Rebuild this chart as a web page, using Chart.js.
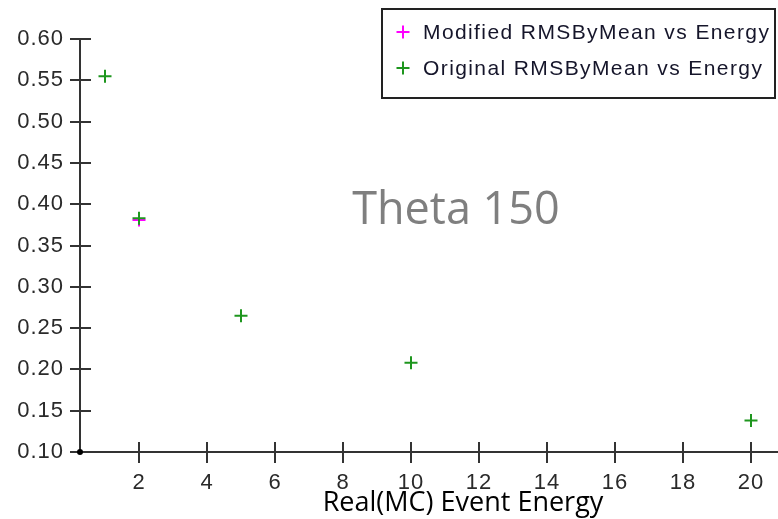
<!DOCTYPE html>
<html>
<head>
<meta charset="utf-8">
<script src="https://cdn.jsdelivr.net/npm/chart.js@4/dist/chart.umd.min.js"></script>
<style>
  html, body { margin: 0; padding: 0; background: #fff; }
  canvas { display: block; }
</style>
</head>
<body>
<canvas id="c" width="778" height="519"></canvas>
<script>
// Event energy (x) and RMS/mean resolution for both reconstructions
const energy = [1, 2, 5, 10, 20];
const modifiedRms = [0.555, 0.381, 0.265, 0.208, 0.138];
const originalRms = [0.555, 0.383, 0.265, 0.208, 0.138];

const xTicks = [2, 4, 6, 8, 10, 12, 14, 16, 18, 20];
const yTicks = [0.10, 0.15, 0.20, 0.25, 0.30, 0.35, 0.40, 0.45, 0.50, 0.55, 0.60];
const xRange = [9 / 34, 706 / 34];
const yRange = [0.1, 0.6];

const seriesLabels = ['Modified RMSByMean vs Energy', 'Original RMSByMean vs Energy'];
const seriesColors = ['#ff00ff', '#1e961e'];
const plotTitle = 'Theta 150';
const xTitle = 'Real(MC) Event Energy';

const AXIS = '#2a2a2a';
const MARK = 6.5;

function crossAt(ctx, x, y, r, color) {
  ctx.save();
  ctx.strokeStyle = color;
  ctx.lineWidth = 2;
  ctx.beginPath();
  ctx.moveTo(x - r, y); ctx.lineTo(x + r, y);
  ctx.moveTo(x, y - r); ctx.lineTo(x, y + r);
  ctx.stroke();
  ctx.restore();
}

// Axis lines with tick marks crossing both sides, plus the origin dot
const axesPlugin = {
  id: 'axesPlugin',
  beforeDraw(chart) {
    chart.ctx.letterSpacing = '1px';
  },
  beforeDatasetsDraw(chart) {
    const { ctx, chartArea: a, scales: { x, y } } = chart;
    ctx.save();
    ctx.strokeStyle = '#333';
    ctx.lineWidth = 2;
    ctx.beginPath();
    ctx.moveTo(a.left, y.getPixelForValue(yRange[1]));
    ctx.lineTo(a.left, a.bottom);
    ctx.lineTo(a.right + 1, a.bottom);
    for (const v of yTicks) {
      const py = Math.round(y.getPixelForValue(v));
      ctx.moveTo(a.left - 10, py); ctx.lineTo(a.left + 11, py);
    }
    for (const v of xTicks) {
      const px = Math.round(x.getPixelForValue(v));
      ctx.moveTo(px, a.bottom - 10); ctx.lineTo(px, a.bottom + 11);
    }
    ctx.stroke();
    ctx.fillStyle = '#000';
    ctx.beginPath();
    ctx.arc(a.left, a.bottom, 3, 0, Math.PI * 2);
    ctx.fill();
    ctx.restore();
  },
  afterDraw(chart) {
    const { ctx } = chart;
    ctx.save();
    // centred plot label
    ctx.letterSpacing = '0px';
    ctx.fillStyle = '#7f7f7f';
    ctx.font = '45px "Open Sans"';
    ctx.textAlign = 'center';
    ctx.textBaseline = 'alphabetic';
    ctx.fillText(plotTitle, 456, 224);
    // x-axis caption
    ctx.fillStyle = '#000';
    ctx.font = '27px "Open Sans"';
    ctx.fillText(xTitle, 463, 511);
    // legend box
    ctx.fillStyle = '#fff';
    ctx.fillRect(382, 9, 393, 89);
    ctx.strokeStyle = '#222';
    ctx.lineWidth = 2;
    ctx.strokeRect(382, 9, 393, 89);
    const rows = [32, 68];
    ctx.font = '21px "Liberation Sans", Arial, sans-serif';
    ctx.letterSpacing = '1.4px';
    ctx.textAlign = 'left';
    ctx.textBaseline = 'middle';
    seriesLabels.forEach((lab, i) => {
      crossAt(ctx, 403, rows[i], MARK, seriesColors[i]);
      ctx.fillStyle = '#15152a';
      ctx.fillText(lab, 423, rows[i] + 1);
    });
    ctx.restore();
  }
};

const tickFont = { family: '"Liberation Sans", Arial, sans-serif', size: 22 };

// a modified point that sits exactly under the original one is fully hidden,
// so it is not stroked (avoids colour fringes from overlapping antialiasing)
const hiddenUnderOriginal = ctx => modifiedRms[ctx.dataIndex] === originalRms[ctx.dataIndex] ? 0 : MARK;

new Chart(document.getElementById('c'), {
  type: 'scatter',
  data: {
    datasets: [
      {
        label: seriesLabels[0],
        data: energy.map((e, i) => ({ x: e, y: modifiedRms[i] })),
        pointStyle: 'cross',
        pointRadius: hiddenUnderOriginal,
        pointBorderWidth: 2,
        borderColor: seriesColors[0],
        backgroundColor: seriesColors[0],
        order: 1
      },
      {
        label: seriesLabels[1],
        data: energy.map((e, i) => ({ x: e, y: originalRms[i] })),
        pointStyle: 'cross',
        pointRadius: MARK,
        pointBorderWidth: 2,
        borderColor: seriesColors[1],
        backgroundColor: seriesColors[1],
        order: 0
      }
    ]
  },
  options: {
    responsive: false,
    animation: false,
    devicePixelRatio: 1,
    layout: { autoPadding: false, padding: { top: 39, right: 1, left: 0, bottom: 0 } },
    plugins: {
      legend: { display: false },
      title: { display: false },
      tooltip: { enabled: false }
    },
    scales: {
      x: {
        type: 'linear',
        min: xRange[0],
        max: xRange[1],
        afterBuildTicks: s => { s.ticks = xTicks.map(v => ({ value: v })); },
        afterFit: s => { s.height = 67; s.paddingLeft = 0; s.paddingRight = 0; },
        grid: { display: false, drawTicks: false },
        border: { display: false },
        ticks: {
          autoSkip: false, maxRotation: 0, padding: 18,
          color: AXIS, font: tickFont,
          callback: v => String(v)
        }
      },
      y: {
        type: 'linear',
        min: yRange[0],
        max: yRange[1],
        afterBuildTicks: s => { s.ticks = yTicks.map(v => ({ value: v })); },
        afterFit: s => { s.width = 80; s.paddingTop = 0; s.paddingBottom = 0; },
        grid: { display: false, drawTicks: false },
        border: { display: false },
        ticks: {
          autoSkip: false, padding: 16,
          color: AXIS, font: tickFont,
          callback: v => Number(v).toFixed(2)
        }
      }
    }
  },
  plugins: [axesPlugin]
});
</script>
</body>
</html>
